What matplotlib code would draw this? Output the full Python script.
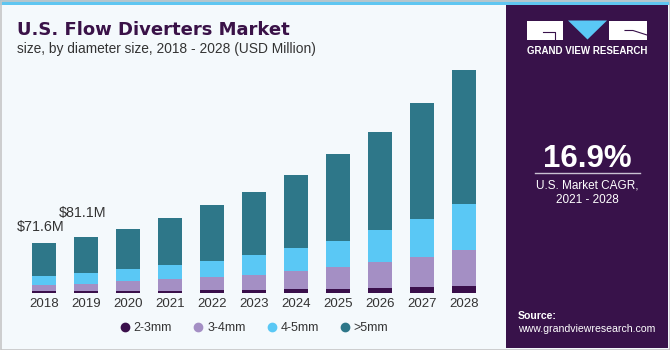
import numpy as np
import matplotlib.pyplot as plt
from matplotlib.patches import Rectangle, Polygon
from matplotlib.lines import Line2D

plt.rcParams["font.family"] = ["Liberation Sans", "DejaVu Sans"]

# Data (USD Million)
years = ["2018", "2019", "2020", "2021", "2022", "2023", "2024", "2025", "2026", "2027", "2028"]
mm_2_3 = [1.8, 2.5, 1.8, 2.6, 3.2, 3.2, 5.5, 4.7, 7.0, 8.5, 9.9]
mm_3_4 = [8.8, 10.0, 15.0, 17.1, 19.9, 22.3, 25.8, 32.1, 37.5, 43.8, 52.6]
mm_4_5 = [13.6, 16.3, 17.5, 20.0, 22.9, 29.2, 33.1, 38.8, 46.3, 55.0, 66.7]
mm_gt5 = [47.4, 52.3, 58.8, 68.6, 81.3, 91.5, 107.0, 126.1, 144.0, 169.8, 195.6]
series_names = ["2-3mm", "3-4mm", "4-5mm", ">5mm"]
series_colors = ["#3a0f4b", "#a48fc4", "#5ac8f5", "#2e7789"]
value_labels = {0: "$71.6M", 1: "$81.1M"}
label_offsets = {0: 7, 1: 12.5}

W, H = 670, 350
bg = "#f4f9fc"
panel = "#38124a"

fig = plt.figure(figsize=(W / 100, H / 100), dpi=100, facecolor=bg)


def fx(px):
    return px / W


def fy(py):
    return 1 - py / H


# right panel with a soft gradient at the bottom
fig.patches.append(Rectangle((fx(506), fy(348)), fx(162), fy(5) - fy(348),
                             transform=fig.transFigure, facecolor=panel,
                             edgecolor="none", zorder=0))
grad_ax = fig.add_axes([fx(506), fy(348), fx(162), fy(262) - fy(348)])
grad_ax.axis("off")
top_rgb = np.array([0x38, 0x12, 0x4a]) / 255
mid_rgb = np.array([0x4a, 0x4f, 0x94]) / 255
bot_rgb = np.array([0x45, 0x98, 0xd6]) / 255
t = np.linspace(0, 1, 100)[:, None]
colors = np.where(t < 0.5, top_rgb + (mid_rgb - top_rgb) * (t / 0.5),
                  mid_rgb + (bot_rgb - mid_rgb) * ((t - 0.5) / 0.5))
grad_ax.imshow(colors[:, None, :].repeat(2, axis=1), aspect="auto",
               extent=[0, 1, 0, 1], origin="upper")
grad_ax.set_xlim(0, 1)
grad_ax.set_ylim(0, 1)

# top strip and outer border
fig.patches.append(Rectangle((0, fy(5)), 1, fy(0) - fy(5), transform=fig.transFigure,
                             facecolor="#5fc6f1", edgecolor="none", zorder=1))
fig.patches.append(Rectangle((fx(0.5), fy(349.5)), fx(669), fy(0.5) - fy(349.5),
                             transform=fig.transFigure, facecolor="none",
                             edgecolor="#c6c6c6", lw=1.2, zorder=5))

# logo
for x0, x1 in [(527, 563), (609, 647)]:
    fig.patches.append(Rectangle((fx(x0), fy(39.5)), fx(x1 - x0), fy(20.5) - fy(39.5),
                                 transform=fig.transFigure, facecolor="white",
                                 edgecolor="none", zorder=2))
fig.patches.append(Polygon([(fx(568), fy(20.5)), (fx(607), fy(20.5)), (fx(587.5), fy(39.5))],
                           closed=True, transform=fig.transFigure, facecolor="#5ac8f5",
                           edgecolor="none", zorder=2))
fig.add_artist(Line2D([fx(543), fx(555), fx(555)], [fy(32), fy(32), fy(39.5)],
                      transform=fig.transFigure, color=panel, lw=0.8, zorder=3))
fig.add_artist(Line2D([fx(625), fx(633), fx(647)], [fy(30.5), fy(30.5), fy(35)],
                      transform=fig.transFigure, color=panel, lw=0.8, zorder=3))
fig.text(fx(587), fy(51), "GRAND VIEW RESEARCH", color="white", fontsize=7,
         fontweight="bold", ha="center", va="center")

# CAGR block
fig.text(fx(587.5), fy(166.7), "16.9%", color="white", fontsize=22.5,
         fontweight="bold", ha="center", va="baseline")
fig.add_artist(Line2D([fx(535), fx(640)], [fy(173.3), fy(173.3)],
                      transform=fig.transFigure, color="#c9c1d2", lw=1))
fig.text(fx(587.5), fy(188.3), "U.S. Market CAGR,", color="white", fontsize=8.5,
         ha="center", va="baseline")
fig.text(fx(587.5), fy(203.3), "2021 - 2028", color="white", fontsize=8.5,
         ha="center", va="baseline")

# source
fig.text(fx(518), fy(319), "Source:", color="white", fontsize=7.6,
         fontweight="bold", ha="left", va="baseline", zorder=4)
fig.text(fx(518), fy(332.5), "www.grandviewresearch.com", color="white", fontsize=7.6,
         ha="left", va="baseline", zorder=4)

# titles
fig.text(fx(17), fy(35), "U.S. Flow Diverters Market", color="#3a1248", fontsize=13,
         fontweight="bold", family=["DejaVu Sans"], ha="left", va="baseline")
fig.text(fx(17), fy(53.3), "size, by diameter size, 2018 - 2028 (USD Million)",
         color="#333333", fontsize=9.9, ha="left", va="baseline")

# main chart
ax_left, ax_right, ax_base, ax_top = 10, 500, 292.5, 65
ax = fig.add_axes([fx(ax_left), fy(ax_base), fx(ax_right - ax_left), fy(ax_top) - fy(ax_base)])
ax.set_facecolor("none")
px_per_unit = 42
ax.set_xlim((ax_left - 43.7) / px_per_unit, (ax_right - 43.7) / px_per_unit)
ax.set_ylim(0, (ax_base - ax_top) * 1.46)

x = np.arange(len(years))
bottom = np.zeros(len(years))
for name, vals, col in zip(series_names, [mm_2_3, mm_3_4, mm_4_5, mm_gt5], series_colors):
    ax.bar(x, vals, width=0.57, bottom=bottom, color=col, label=name, zorder=2)
    bottom += np.array(vals)

for i, txt in value_labels.items():
    ax.annotate(txt, xy=(x[i], bottom[i]), xytext=(-2, label_offsets[i]),
                textcoords="offset points", ha="center", va="bottom",
                fontsize=10.3, color="#333333")

ax.set_xticks(x)
ax.set_xticklabels(years, fontsize=9.5, color="#333333")
ax.tick_params(axis="x", length=0, pad=4)
ax.set_yticks([])
for s in ax.spines.values():
    s.set_visible(False)

handles = [Line2D([], [], marker="o", linestyle="none", markersize=6,
                  markerfacecolor=c, markeredgecolor=c) for c in series_colors]
fig.legend(handles, series_names, loc="center", bbox_to_anchor=(fx(253), fy(328)),
           ncol=4, frameon=False, fontsize=9, handletextpad=0.1, columnspacing=1.5,
           labelcolor="#333333", handlelength=1.2)

fig.savefig("out.png", dpi=100, facecolor=bg)
